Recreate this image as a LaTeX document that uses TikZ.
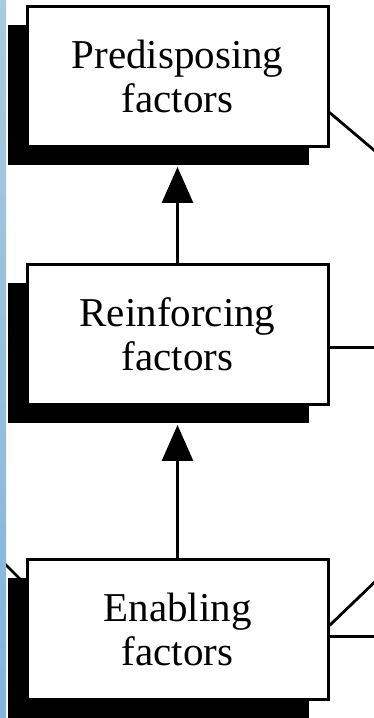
\documentclass[tikz,border=0pt]{standalone}
\usepackage{fontspec}
\setmainfont{Liberation Serif}
\usetikzlibrary{arrows.meta,positioning,shadows}
\usepackage{xcolor}
\definecolor{striptop}{HTML}{A8CBDD}
\definecolor{stripbot}{HTML}{84B3DC}
\tikzset{
  factor/.style={draw=black,line width=3pt,fill=white,minimum width=301pt,minimum height=140pt,inner sep=0pt,align=center,font=\fontsize{41}{44}\selectfont,general shadow={fill=black,shadow xshift=-19pt,shadow yshift=-19pt}},
  flow/.style={-{Triangle[length=36pt,width=31pt]},line width=3pt,shorten >=19pt},
  link/.style={line width=2.8pt},
}

\begin{document}
\begin{tikzpicture}[node distance=115pt]
\useasboundingbox (0,0) rectangle (374pt,718pt);

\node[factor] (pre) at (177.5pt,641.5pt) {Predisposing\\factors};
\node[factor,below=115pt of pre] (rein) {Reinforcing\\factors};
\node[factor,below=152pt of rein] (enab) {Enabling\\factors};

% free ends of the cut-off connectors
\coordinate (preout) at ([xshift=52pt,yshift=-80pt]pre.east);
\coordinate (reinout) at ([xshift=52pt,yshift=-13pt]rein.east);
\coordinate (enabup) at ([xshift=52pt,yshift=54pt]enab.east);
\coordinate (enabout) at ([xshift=52pt,yshift=-7pt]enab.east);
\coordinate (farleft) at ([xshift=-27pt,yshift=72pt]enab.west);

\draw[flow] (rein) -- (pre);
\draw[flow] (enab) -- (rein);
\draw[link] ([yshift=-36pt]pre.east) -- (preout);
\draw[link] ([yshift=-13pt]rein.east) -- (reinout);
\draw[link] ([yshift=4pt]enab.east) -- (enabup);
\draw[link] ([yshift=-7pt]enab.east) -- (enabout);
\draw[link] (farleft) -- ([yshift=45pt]enab.west);

\shade[top color=striptop,bottom color=stripbot] (0,0) rectangle (6pt,718pt);
\end{tikzpicture}
\end{document}
